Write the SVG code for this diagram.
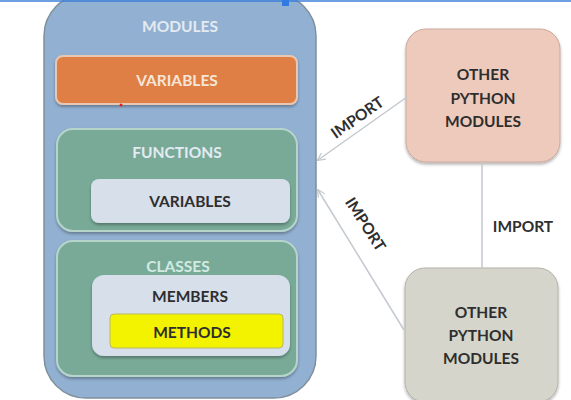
<svg xmlns="http://www.w3.org/2000/svg" width="571" height="400" viewBox="0 0 571 400">
<defs>
<style>
text{font-family:"Lato","Liberation Sans",sans-serif;font-size:15.5px;font-weight:bold;text-anchor:middle;dominant-baseline:central}
.lt{fill:#e3eaf1}
.dk{fill:#2e2e2e}
.conn{stroke:#c3c9cf;stroke-width:1.5;fill:none}
</style>
<marker id="ah" viewBox="0 0 10 10" refX="9" refY="5" markerWidth="8" markerHeight="8" orient="auto" markerUnits="userSpaceOnUse">
<path d="M0,0 L10,5 L0,10" fill="none" stroke="#c3c9cf" stroke-width="1.5"/>
</marker>
<filter id="sh" x="-10%" y="-10%" width="120%" height="130%">
<feDropShadow dx="0" dy="2" stdDeviation="1.5" flood-color="#000" flood-opacity="0.3"/>
</filter>
</defs>
<rect width="571" height="400" fill="#ffffff"/>
<g id="modules">
<rect x="44" y="-6" width="272" height="404" rx="42" fill="#92b1d2" stroke="#7f8f9c" stroke-width="1.5"/>
<text x="180" y="26" class="lt">MODULES</text>
</g>
<g id="variables-top">
<rect x="56" y="56" width="241" height="48" rx="7" fill="#e07f45" stroke="#e8c8b2" stroke-width="2" filter="url(#sh)"/>
<text x="177" y="80" fill="#f4e6d8">VARIABLES</text>
</g>
<g id="functions">
<rect x="57" y="129" width="240" height="102" rx="16" fill="#79aa98" stroke="#b6d4ca" stroke-width="2" filter="url(#sh)"/>
<text x="177" y="152" class="lt">FUNCTIONS</text>
</g>
<g id="func-variables">
<rect x="91" y="179" width="199" height="44" rx="8" fill="#d6dfea" filter="url(#sh)"/>
<text x="190" y="201" class="dk">VARIABLES</text>
</g>
<g id="classes">
<rect x="57" y="241" width="240" height="135" rx="16" fill="#79aa98" stroke="#b6d4ca" stroke-width="2" filter="url(#sh)"/>
<text x="178" y="266" fill="#d2ebe2">CLASSES</text>
</g>
<g id="members">
<rect x="92" y="275" width="198" height="81" rx="12" fill="#d6dfea" filter="url(#sh)"/>
<text x="190" y="296" class="dk">MEMBERS</text>
</g>
<g id="methods">
<rect x="110" y="314" width="173" height="34" rx="4" fill="#f3f300" stroke="#b8b860" stroke-width="1"/>
<text x="192" y="332" class="dk">METHODS</text>
</g>
<g id="other-top">
<rect x="406" y="29" width="154" height="133" rx="20" fill="#eecabc" stroke="#c9a99c" stroke-width="1" filter="url(#sh)"/>
<text x="483" y="74" class="dk">OTHER</text>
<text x="483" y="98" class="dk">PYTHON</text>
<text x="483" y="121" class="dk">MODULES</text>
</g>
<g id="other-bottom">
<rect x="405" y="268" width="153" height="134" rx="20" fill="#d5d5cb" stroke="#b3b3aa" stroke-width="1" filter="url(#sh)"/>
<text x="481" y="312" class="dk">OTHER</text>
<text x="481" y="335" class="dk">PYTHON</text>
<text x="481" y="358" class="dk">MODULES</text>
</g>
<g id="connectors">
<line x1="407" y1="97" x2="318" y2="160" class="conn" marker-end="url(#ah)"/>
<line x1="404" y1="330" x2="318" y2="190" class="conn" marker-end="url(#ah)"/>
<line x1="482" y1="162" x2="482" y2="268" class="conn"/>
<text x="357" y="117" class="dk" transform="rotate(-35 357 117)">IMPORT</text>
<text x="366" y="224" class="dk" transform="rotate(57 366 224)">IMPORT</text>
<text x="523" y="226" class="dk">IMPORT</text>
</g>
<g id="overlay">
<line x1="0" y1="1" x2="571" y2="1" stroke="#3b7fd9" stroke-width="1.5"/>
<rect x="282" y="0" width="7" height="6" fill="#2f7be0"/>
<circle cx="121" cy="105" r="1.5" fill="#e02020"/>
</g>
</svg>
